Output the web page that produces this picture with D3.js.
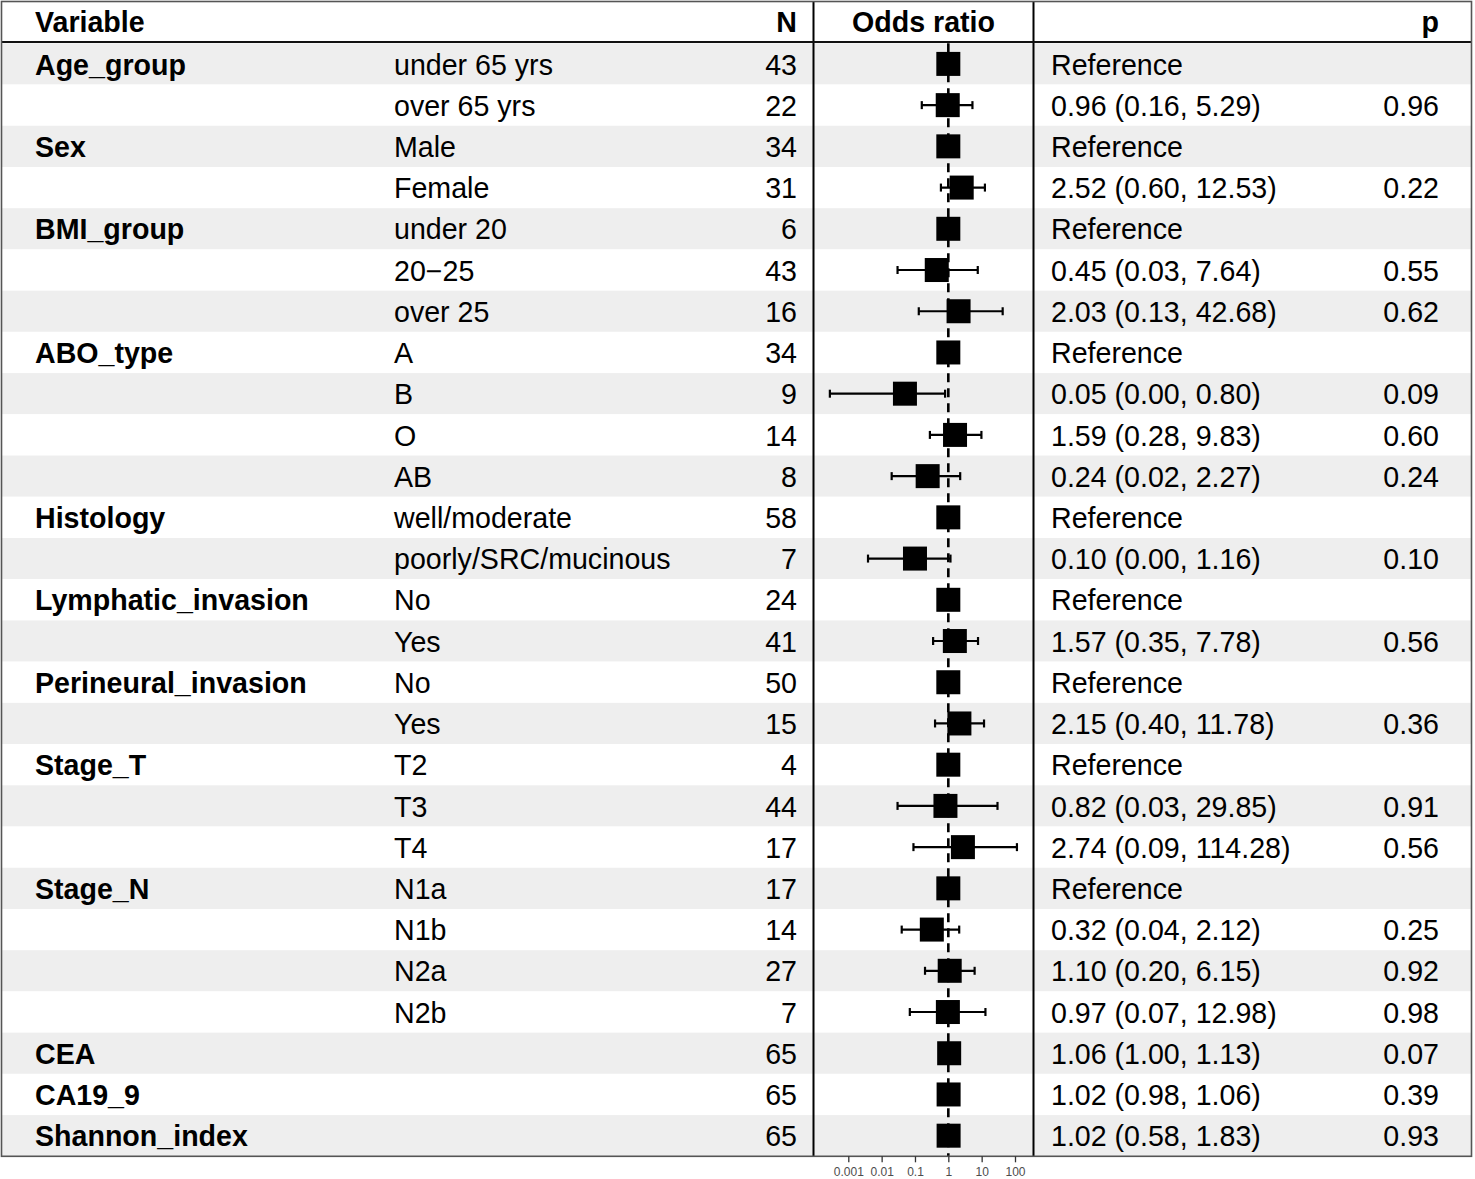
<!DOCTYPE html>
<html>
<head>
<meta charset="utf-8">
<script src="https://cdn.jsdelivr.net/npm/d3@7"></script>
<style>
  html, body { margin: 0; padding: 0; background: #ffffff; }
  svg { display: block; }
  text { font-family: "Liberation Sans", Arial, Helvetica, sans-serif; }
</style>
</head>
<body>
<svg id="chart" width="1475" height="1179"></svg>
<script>
// ---- data ----
const variables = ["Age_group","","Sex","","BMI_group","","","ABO_type","","","","Histology","","Lymphatic_invasion","","Perineural_invasion","","Stage_T","","","Stage_N","","","","CEA","CA19_9","Shannon_index"];
const levels = ["under 65 yrs","over 65 yrs","Male","Female","under 20","20\u221225","over 25","A","B","O","AB","well/moderate","poorly/SRC/mucinous","No","Yes","No","Yes","T2","T3","T4","N1a","N1b","N2a","N2b","","",""];
const counts = [43,22,34,31,6,43,16,34,9,14,8,58,7,24,41,50,15,4,44,17,17,14,27,7,65,65,65];
const oddsRatio = [null,0.96,null,2.52,null,0.45,2.03,null,0.05,1.59,0.24,null,0.10,null,1.57,null,2.15,null,0.82,2.74,null,0.32,1.10,0.97,1.06,1.02,1.02];
const ciLower = [null,0.16,null,0.60,null,0.03,0.13,null,0.00028,0.28,0.02,null,0.0039,null,0.35,null,0.40,null,0.03,0.09,null,0.04,0.20,0.07,1.00,0.98,0.58];
const ciUpper = [null,5.29,null,12.53,null,7.64,42.68,null,0.80,9.83,2.27,null,1.16,null,7.78,null,11.78,null,29.85,114.28,null,2.12,6.15,12.98,1.13,1.06,1.83];
const pValues = ["","0.96","","0.22","","0.55","0.62","","0.09","0.60","0.24","","0.10","","0.56","","0.36","","0.91","0.56","","0.25","0.92","0.98","0.07","0.39","0.93"];
const tickValues = [0.001, 0.01, 0.1, 1, 10, 100];
const tickLabels = ["0.001", "0.01", "0.1", "1", "10", "100"];
const headers = ["Variable", "N", "Odds ratio", "p"];

// ---- layout ----
const W = 1475, H = 1179;
const rowTop = 43.3, rowBottom = 1156.3;
const panelL = 813.5, panelR = 1033.5;
const colVar = 35, colLevel = 394, colN = 797, colOR = 1051, colP = 1439;
const fs = 28.6;

const svg = d3.select("#chart");
const n = levels.length;
const rows = d3.range(n);

const y = d3.scaleBand().domain(rows).range([rowTop, rowBottom]).padding(0);
const x = d3.scaleLog().domain([0.001, 100]).range([848.3, 1015]);
const yc = i => y(i) + y.bandwidth() / 2;

// row bands
svg.append("g").selectAll("rect").data(rows).join("rect")
  .attr("x", 1.5).attr("width", 1470)
  .attr("y", i => y(i)).attr("height", y.bandwidth())
  .attr("fill", i => i % 2 === 0 ? "#eeeeee" : "#ffffff");

// reference dashed line
svg.append("line")
  .attr("x1", x(1)).attr("x2", x(1))
  .attr("y1", rowTop).attr("y2", rowBottom)
  .attr("stroke", "#000").attr("stroke-width", 2.6)
  .attr("stroke-dasharray", "9,6");

// error bars
const ciRows = rows.filter(i => ciLower[i] !== null);
const eb = svg.append("g").attr("stroke", "#000").attr("stroke-width", 2.2);
eb.selectAll("line.ci").data(ciRows).join("line").attr("class", "ci")
  .attr("x1", i => x(ciLower[i])).attr("x2", i => x(ciUpper[i]))
  .attr("y1", yc).attr("y2", yc);
eb.selectAll("line.capl").data(ciRows).join("line").attr("class", "capl")
  .attr("x1", i => x(ciLower[i])).attr("x2", i => x(ciLower[i]))
  .attr("y1", i => yc(i) - 4).attr("y2", i => yc(i) + 4);
eb.selectAll("line.capr").data(ciRows).join("line").attr("class", "capr")
  .attr("x1", i => x(ciUpper[i])).attr("x2", i => x(ciUpper[i]))
  .attr("y1", i => yc(i) - 4).attr("y2", i => yc(i) + 4);

// squares
const sq = 24;
svg.append("g").selectAll("rect").data(rows).join("rect")
  .attr("x", i => x(oddsRatio[i] === null ? 1 : oddsRatio[i]) - sq / 2)
  .attr("y", i => yc(i) - sq / 2)
  .attr("width", sq).attr("height", sq)
  .attr("fill", "#000");

// panel vertical lines
[panelL, panelR].forEach(px => {
  svg.append("line").attr("x1", px).attr("x2", px)
    .attr("y1", 1).attr("y2", rowBottom)
    .attr("stroke", "#000").attr("stroke-width", 2);
});

// header line
svg.append("line").attr("x1", 1.5).attr("x2", 1471.5)
  .attr("y1", 42).attr("y2", 42)
  .attr("stroke", "#111").attr("stroke-width", 2.2);

// outer border
svg.append("rect").attr("x", 1.5).attr("y", 1.5)
  .attr("width", 1470).attr("height", rowBottom - 1.5)
  .attr("fill", "none").attr("stroke", "#555").attr("stroke-width", 1.6);

// axis
const axis = d3.axisBottom(x).tickValues(tickValues)
  .tickFormat((d, i) => tickLabels[i]).tickSize(6).tickPadding(5);
const ag = svg.append("g").attr("transform", `translate(0,${rowBottom})`).call(axis);
ag.select(".domain").remove();
ag.selectAll(".tick line").attr("stroke", "#333").attr("stroke-width", 1.3);
ag.selectAll(".tick text").attr("fill", "#4d4d4d").attr("font-size", 12)
  .style("font-family", "'Liberation Sans', Arial, sans-serif");

// header text
const hy = 22 + 10.3;
const ht = svg.append("g").attr("font-size", fs).attr("font-weight", "bold").attr("fill", "#000");
ht.append("text").attr("x", colVar).attr("y", hy).text(headers[0]);
ht.append("text").attr("x", colN).attr("y", hy).attr("text-anchor", "end").text(headers[1]);
ht.append("text").attr("x", (panelL + panelR) / 2).attr("y", hy).attr("text-anchor", "middle").text(headers[2]);
ht.append("text").attr("x", colP).attr("y", hy).attr("text-anchor", "end").text(headers[3]);

// body text
const tg = svg.append("g").attr("font-size", fs).attr("fill", "#000");
const base = i => yc(i) + 10.6;
tg.selectAll("text.var").data(rows).join("text").attr("class", "var")
  .attr("x", colVar).attr("y", base).attr("font-weight", "bold")
  .text(i => variables[i]);
tg.selectAll("text.lev").data(rows).join("text").attr("class", "lev")
  .attr("x", colLevel).attr("y", base).text(i => levels[i]);
tg.selectAll("text.n").data(rows).join("text").attr("class", "n")
  .attr("x", colN).attr("y", base).attr("text-anchor", "end").text(i => counts[i]);
const fmt = v => v.toFixed(2);
tg.selectAll("text.or").data(rows).join("text").attr("class", "or")
  .attr("x", colOR).attr("y", base)
  .text(i => oddsRatio[i] === null ? "Reference"
    : `${fmt(oddsRatio[i])} (${fmt(ciLower[i])}, ${fmt(ciUpper[i])})`);
tg.selectAll("text.p").data(rows).join("text").attr("class", "p")
  .attr("x", colP).attr("y", base).attr("text-anchor", "end").text(i => pValues[i]);
</script>
</body>
</html>
